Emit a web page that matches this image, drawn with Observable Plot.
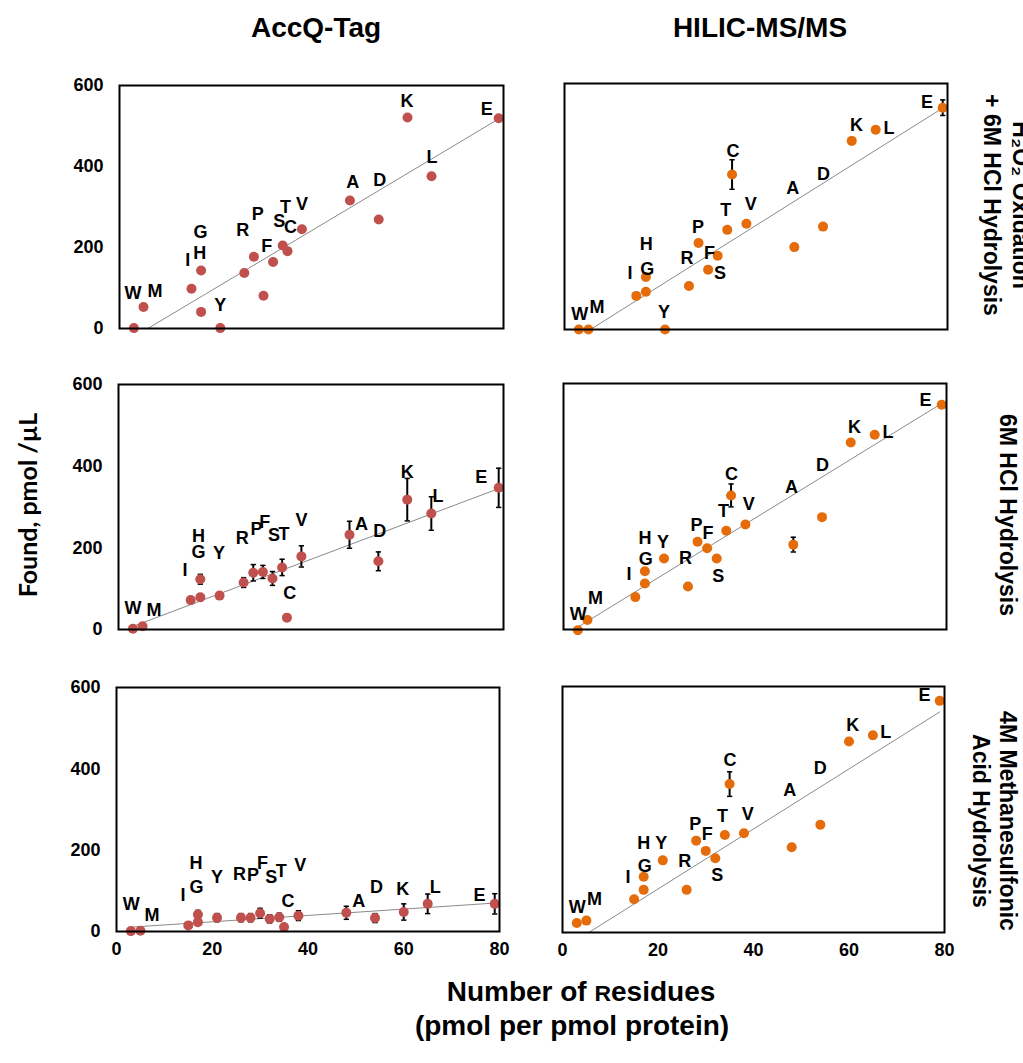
<!DOCTYPE html>
<html><head><meta charset="utf-8">
<script src="https://cdn.jsdelivr.net/npm/d3@7"></script>
<script src="https://cdn.jsdelivr.net/npm/@observablehq/plot@0.6"></script>
<style>
body{margin:0;background:#fff;}
#root{position:relative;width:1023px;height:1063px;overflow:hidden;font-family:"Liberation Sans",Arial,sans-serif;background:#fff;}
.t{position:absolute;font-weight:bold;color:#000;white-space:nowrap;}
</style></head><body><div id="root"></div><script>
// ---- data ----
const residues     = ["W","M","I","G","H","Y","R","P","F","S","T","C","V","A","D","K","L","E"];
const residueCount = [3, 5, 15, 17, 17, 21, 26, 28, 30, 32, 34, 35, 38, 48, 54, 60, 65, 79];
const methods = ["AccQ-Tag", "HILIC-MS/MS"];
const conditions = [["H\u2082O\u2082 Oxidation", "+ 6M HCl Hydrolysis"], ["6M HCl Hydrolysis"], ["4M Methanesulfonic", "Acid Hydrolysis"]];
const xTicks = [0, 20, 40, 60, 80];
const yTicks = [0, 200, 400, 600];
const yTitle = "Found, pmol /\u00b5L";
const xTitle1 = ["Number of ", "R", "esidues"];
const xTitle2 = "(pmol per pmol protein)";

// AccQ-Tag, H2O2 oxidation + 6M HCl
const accqOxFound = [1, 53, 98, 41, 143, 1, 137, 177, 81, 164, 205, 191, 245, 316, 269, 521, 376, 519];
const accqOxErr   = [0, 0, 0, 0, 0, 0, 0, 0, 0, 0, 0, 0, 0, 0, 0, 0, 0, 0];
const accqOxLabX  = [2.8, 7.4, 14.2, 16.9, 16.7, 21, 25.7, 28.8, 30.7, 33.3, 34.6, 35.6, 38, 48.6, 54.2, 59.9, 65.1, 76.5];
const accqOxLabY  = [86, 92, 168, 237, 187, 58, 242, 281, 204, 265, 300, 249, 307, 362, 366, 561, 423, 542];
const accqOxFit   = [7.08, -41.8, 5.9, 79]; // slope, intercept, x from, x to

// HILIC, H2O2 oxidation + 6M HCl
const hilicOxFound = [0, 0, 82, 92, 128, 0, 106, 211, 146, 180, 243, 378, 258, 201, 251, 460, 487, 541];
const hilicOxErr   = [0, 0, 0, 0, 0, 0, 0, 0, 0, 0, 0, 36, 0, 0, 0, 8, 0, 19];
const hilicOxLabX  = [3.2, 6.8, 13.7, 17.3, 17.1, 20.8, 25.6, 27.9, 30.3, 32.5, 33.7, 35.2, 38.9, 47.7, 54.1, 61, 67.8, 75.7];
const hilicOxLabY  = [37, 54, 137, 148, 208, 41, 173, 250, 187, 138, 291, 435, 306, 344, 379, 498, 490, 554];
const hilicOxFit   = [7.34, -39.7, 5.4, 79];

// AccQ-Tag, 6M HCl
const accqHclFound = [2, 8, 72, 79, 123, 83, 115, 139, 141, 125, 152, 29, 179, 232, 167, 318, 284, 347];
const accqHclErr   = [0, 0, 8, 8, 12, 7, 12, 20, 16, 17, 20, 0, 26, 33, 23, 52, 41, 48];
const accqHclLabX  = [3, 7.4, 13.8, 16.6, 16.6, 20.9, 25.7, 28.7, 30.4, 32.3, 34.4, 35.6, 38, 50.5, 54.3, 60, 66.4, 75.4];
const accqHclLabY  = [51, 46, 145, 190, 229, 186, 223, 245, 263, 231, 233, 90, 267, 258, 241, 386, 326, 372];
const accqHclFit   = [4.44, -5.66, 2.4, 79];

// HILIC, 6M HCl
const hilicHclFound = [-2, 23, 79, 112, 142, 173, 105, 214, 198, 173, 241, 327, 256, 207, 274, 456, 475, 548];
const hilicHclErr   = [0, 0, 0, 0, 0, 0, 0, 0, 0, 0, 0, 28, 0, 18, 0, 0, 0, 5];
const hilicHclLabX  = [3.1, 6.7, 13.7, 17.2, 17, 20.8, 25.5, 27.8, 30.2, 32.3, 33.4, 35.1, 38.7, 47.6, 54.1, 60.8, 67.8, 75.6];
const hilicHclLabY  = [37, 77, 134, 171, 222, 214, 173, 254, 236, 131, 289, 379, 306, 348, 401, 493, 480, 559];
const hilicHclFit   = [7.18, -15.8, 3.1, 79];

// AccQ-Tag, 4M methanesulfonic acid
const accqMsaFound = [1, 2, 15, 23, 42, 34, 34, 34, 45, 31, 35, 11, 39, 46, 33, 48, 68, 68];
const accqMsaErr   = [0, 0, 0, 0, 10, 10, 10, 10, 12, 10, 10, 0, 12, 16, 11, 20, 24, 25];
const accqMsaLabX  = [3.1, 7.4, 13.9, 16.7, 16.6, 21, 25.7, 28.5, 30.5, 32.3, 34.4, 35.8, 38.4, 50.6, 54.3, 59.8, 66.6, 75.8];
const accqMsaLabY  = [66, 39, 89, 108, 169, 134, 142, 138, 169, 134, 148, 74, 162, 75, 109, 105, 109, 90];
const accqMsaFit   = [0.78, 8.3, 3, 79];

// HILIC, 4M methanesulfonic acid
const hilicMsaFound = [23, 29, 81, 104, 136, 176, 104, 224, 199, 181, 238, 362, 242, 208, 263, 466, 481, 565];
const hilicMsaErr   = [0, 0, 0, 0, 0, 0, 0, 0, 0, 0, 0, 30, 0, 0, 0, 0, 8, 0];
const hilicMsaLabX  = [3.1, 6.7, 13.7, 17.2, 17, 20.7, 25.6, 27.8, 30.3, 32.4, 33.5, 35.1, 38.8, 47.6, 54, 60.8, 67.7, 75.8];
const hilicMsaLabY  = [62, 82, 135, 162, 218, 218, 174, 265, 239, 139, 283, 419, 289, 346, 400, 506, 488, 579];
const hilicMsaFit   = [7.32, -40.3, 5.5, 79];

// ---- layout ----
const root = document.getElementById("root");
const COLORS = {accq: "#C0504D", hilic: "#E46C0A"};
const panels = [
  {found: accqOxFound, err: accqOxErr, lx: accqOxLabX, ly: accqOxLabY, fit: accqOxFit, color: COLORS.accq, rect: {x:119, y:85, w:384, h:243}, showY: true, showX: false},
  {found: hilicOxFound, err: hilicOxErr, lx: hilicOxLabX, ly: hilicOxLabY, fit: hilicOxFit, color: COLORS.hilic, rect: {x:564, y:83, w:383, h:246}, showY: false, showX: false},
  {found: accqHclFound, err: accqHclErr, lx: accqHclLabX, ly: accqHclLabY, fit: accqHclFit, color: COLORS.accq, rect: {x:118, y:384, w:385, h:245}, showY: true, showX: false},
  {found: hilicHclFound, err: hilicHclErr, lx: hilicHclLabX, ly: hilicHclLabY, fit: hilicHclFit, color: COLORS.hilic, rect: {x:563, y:383, w:383, h:246}, showY: false, showX: false},
  {found: accqMsaFound, err: accqMsaErr, lx: accqMsaLabX, ly: accqMsaLabY, fit: accqMsaFit, color: COLORS.accq, rect: {x:116, y:687, w:383, h:244}, showY: true, showX: true},
  {found: hilicMsaFound, err: hilicMsaErr, lx: hilicMsaLabX, ly: hilicMsaLabY, fit: hilicMsaFit, color: COLORS.hilic, rect: {x:562, y:686, w:382, h:246}, showY: false, showX: true}
];

function addPanel(p) {
  const mL = 70, mR = 20, mT = 20, mB = 40;
  const rows = residues.map((r, i) => ({res: r, n: residueCount[i], v: p.found[i], e: p.err[i], lx: p.lx[i], ly: p.ly[i]}));
  const errRows = rows.filter(d => d.e > 0);
  const fitRows = [p.fit[2], p.fit[3]].map(x => ({x, y: p.fit[0] * x + p.fit[1]}));
  const capHalf = 0.55;
  const chart = Plot.plot({
    width: p.rect.w + mL + mR,
    height: p.rect.h + mT + mB,
    marginLeft: mL, marginRight: mR, marginTop: mT, marginBottom: mB,
    style: {background: "transparent", overflow: "visible", fontFamily: "'Liberation Sans', Arial, sans-serif", fontSize: "18px", fontWeight: "bold", color: "#000"},
    x: {domain: [0, 80], ticks: xTicks, tickSize: 0, tickPadding: 11, label: null, axis: p.showX ? "bottom" : null},
    y: {domain: [0, 600], ticks: yTicks, tickSize: 0, tickPadding: 16, label: null, axis: p.showY ? "left" : null},
    marks: [
      Plot.line(fitRows, {x: "x", y: "y", stroke: "#8a8a8a", strokeWidth: 1}),
      Plot.ruleX(errRows, {x: "n", y1: d => d.v - d.e, y2: d => d.v + d.e, stroke: "#000", strokeWidth: 2}),
      Plot.link(errRows, {x1: d => d.n - capHalf, x2: d => d.n + capHalf, y1: d => d.v - d.e, y2: d => d.v - d.e, stroke: "#000", strokeWidth: 1.5}),
      Plot.link(errRows, {x1: d => d.n - capHalf, x2: d => d.n + capHalf, y1: d => d.v + d.e, y2: d => d.v + d.e, stroke: "#000", strokeWidth: 1.5}),
      Plot.dot(rows, {x: "n", y: "v", r: 5, fill: p.color, stroke: "none"}),
      Plot.text(rows, {x: "lx", y: "ly", text: "res", fontSize: 18, fontWeight: "bold", fill: "#000"}),
      Plot.frame({stroke: "#000", strokeWidth: 2})
    ]
  });
  chart.style.position = "absolute";
  chart.style.left = (p.rect.x - mL) + "px";
  chart.style.top = (p.rect.y - mT) + "px";
  root.appendChild(chart);
}
panels.forEach(addPanel);

// ---- titles ----
function addText(html, css) {
  const d = document.createElement("div");
  d.className = "t";
  d.innerHTML = html;
  Object.assign(d.style, css);
  root.appendChild(d);
  return d;
}
// column titles
[316, 760].forEach((cx, i) => addText(methods[i], {left: cx + "px", top: "28px", fontSize: "28px", transform: "translate(-50%,-50%)"}));
// row titles (rotated)
const rowLabelPos = [{x: 1006, y: 205, lh: 29}, {x: 1007, y: 515, lh: 29}, {x: 994, y: 821, lh: 27}];
conditions.forEach((lines, i) => addText(lines.join("<br>"), {
  left: rowLabelPos[i].x + "px", top: rowLabelPos[i].y + "px", fontSize: "23px", lineHeight: rowLabelPos[i].lh + "px",
  textAlign: "center", transform: "translate(-50%,-50%) rotate(90deg)"
}));
// y title
addText(yTitle, {left: "27px", top: "505px", fontSize: "25px", fontFamily: "'Liberation Sans Narrow', Lato, sans-serif", transform: "translate(-50%,-50%) rotate(-90deg)"});
// x title
addText(xTitle1[0] + '<span style="font-size:0.82em">' + xTitle1[1] + '</span>' + xTitle1[2], {left: "581px", top: "992px", fontSize: "28px", transform: "translate(-50%,-50%)"});
addText(xTitle2, {left: "572px", top: "1026px", fontSize: "28px", transform: "translate(-50%,-50%)"});
</script></body></html>
